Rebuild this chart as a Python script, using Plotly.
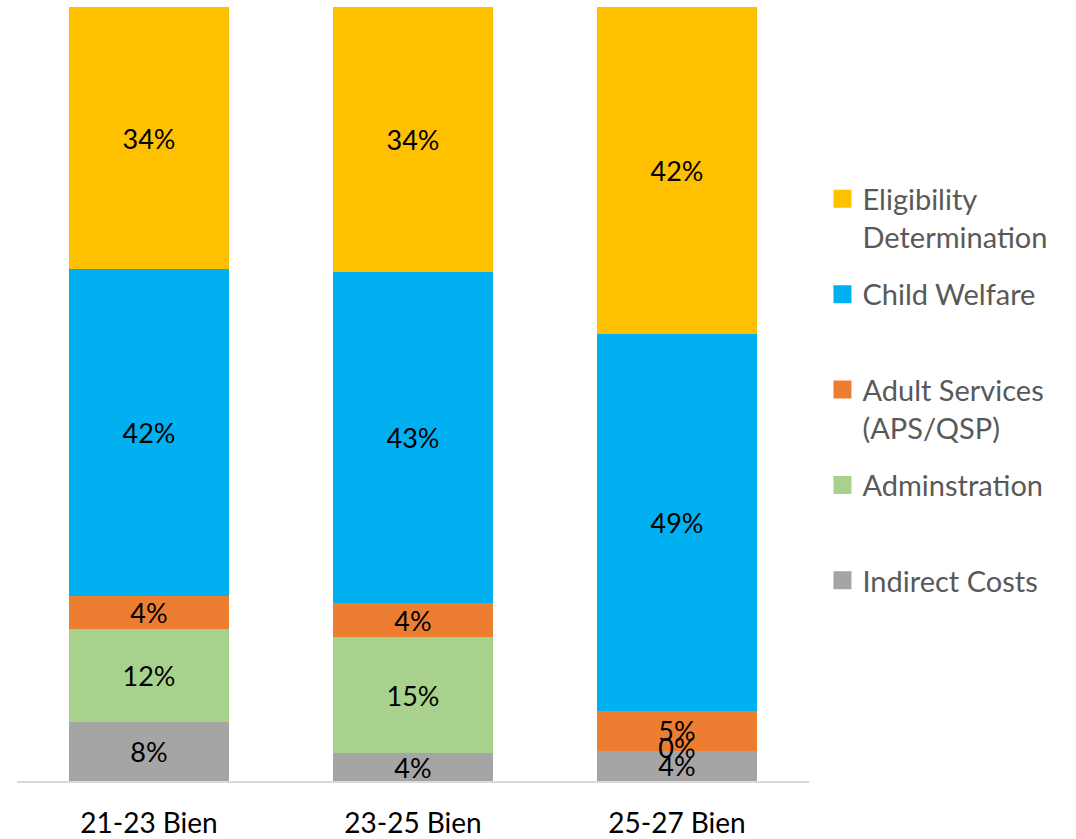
import plotly.graph_objects as go

categories = ["21-23 Bien", "23-25 Bien", "25-27 Bien"]
series_names = ["Indirect Costs", "Adminstration", "Adult Services<br>(APS/QSP)",
                "Child Welfare", "Eligibility<br>Determination"]
indirect = [7.6, 3.6, 3.9]
admin = [12.0, 15.0, 0.0]
adult = [4.3, 4.4, 5.2]
child = [42.2, 42.8, 48.7]
elig = [33.9, 34.2, 42.2]
colors = ["#A5A5A5", "#A9D18E", "#ED7D31", "#00B0F0", "#FFC000"]

series_values = [indirect, admin, adult, child, elig]

LABEL_FONT = dict(family="Lato", size=27, color="#000000")

fig = go.Figure()
for name, vals, col in zip(series_names, series_values, colors):
    fig.add_trace(go.Bar(
        x=categories, y=vals, name=name, marker=dict(color=col, line=dict(width=0)),
        texttemplate="%{y:.0f}%", textposition="inside", insidetextanchor="middle",
        textfont=LABEL_FONT, constraintext="none", showlegend=False,
        legendgroup=name, hoverinfo="skip",
    ))

# labels for zero-valued segments (not drawn by bars of zero height)
for vals, base_idx in [(admin, 0)]:
    xs, ys, ts = [], [], []
    for i, v in enumerate(vals):
        if v == 0:
            xs.append(categories[i])
            ys.append(sum(series_values[k][i] for k in range(base_idx + 1)))
            ts.append(f"{v:.0f}%")
    fig.add_trace(go.Scatter(x=xs, y=ys, text=ts, mode="text", textfont=LABEL_FONT,
                             showlegend=False, hoverinfo="skip", cliponaxis=False))

# legend entries (larger square swatches), top to bottom
for name, col in reversed(list(zip(series_names, colors))):
    label = name if "<br>" in name else name + "<br> "
    fig.add_trace(go.Scatter(
        x=[None], y=[None], mode="markers", name=label, legendgroup=name,
        marker=dict(symbol="square", size=16, color=col, line=dict(width=2, color=col)),
    ))

fig.update_layout(
    width=1076, height=839,
    margin=dict(l=17, r=267, t=7, b=58, autoexpand=False),
    paper_bgcolor="white", plot_bgcolor="white",
    barmode="stack", bargap=0.394,
    font=dict(family="Lato", color="#000000"),
    legend=dict(
        x=1.017, xanchor="left", y=0.785, yanchor="top",
        traceorder="grouped", tracegroupgap=17, valign="top",
        font=dict(family="Lato", size=29, color="#595959"),
        bgcolor="rgba(0,0,0,0)",
    ),
    xaxis=dict(
        showline=True, linecolor="#D9D9D9", linewidth=1.5, showgrid=False,
        ticks="", tickfont=dict(family="Lato", size=28, color="#000000"),
        ticklabelstandoff=17, automargin=False, zeroline=False,
    ),
    yaxis=dict(range=[0, 100], visible=False, showgrid=False, fixedrange=True,
               automargin=False),
    showlegend=True,
)

fig.write_html("out.html", config={"displayModeBar": False},
               post_script="document.body.style.margin='0';")
